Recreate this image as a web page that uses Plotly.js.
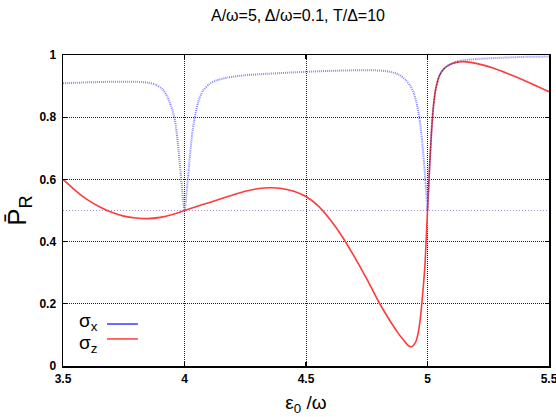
<!DOCTYPE html>
<html>
<head>
<meta charset="utf-8">
<script src="https://cdn.plot.ly/plotly-3.0.1.min.js"></script>
<style>html,body{margin:0;padding:0;background:#fff;}#chart{width:556px;height:417px;}</style>
</head>
<body>
<div id="chart"></div>
<script>
// sigma_x curve (blue dotted)
var sigmaXx = [3.5, 3.6, 3.7, 3.8, 3.85, 3.88, 3.91, 3.93, 3.945, 3.958, 3.968, 3.976, 3.984, 3.991, 3.996, 4.0,
  4.004, 4.009, 4.016, 4.024, 4.032, 4.042, 4.055, 4.075, 4.1, 4.13, 4.18, 4.25, 4.35, 4.5, 4.65, 4.78, 4.84, 4.88,
  4.91, 4.93, 4.945, 4.958, 4.968, 4.977, 4.985, 4.992, 4.997, 5.0,
  5.005, 5.01, 5.017, 5.025, 5.035, 5.05, 5.07, 5.1, 5.13, 5.2, 5.3, 5.4, 5.5];
var sigmaXy = [0.909, 0.912, 0.914, 0.914, 0.911, 0.905, 0.89, 0.865, 0.835, 0.80, 0.75, 0.69, 0.62, 0.56, 0.52, 0.50,
  0.52, 0.56, 0.62, 0.69, 0.75, 0.80, 0.845, 0.885, 0.905, 0.918, 0.928, 0.935, 0.94, 0.946, 0.950, 0.951, 0.947, 0.938,
  0.92, 0.90, 0.875, 0.835, 0.79, 0.73, 0.66, 0.59, 0.53, 0.50,
  0.58, 0.66, 0.76, 0.84, 0.895, 0.935, 0.958, 0.973, 0.981, 0.987, 0.991, 0.994, 0.995];
// sigma_z curve (red solid)
var sigmaZx = [3.5, 3.55, 3.6, 3.65, 3.7, 3.75, 3.8, 3.85, 3.9, 3.95, 4.0, 4.05, 4.1, 4.15, 4.2, 4.25, 4.3, 4.35, 4.4,
  4.45, 4.5, 4.55, 4.6, 4.65, 4.7, 4.75, 4.8, 4.85, 4.88, 4.9, 4.92, 4.935, 4.95, 4.96, 4.97, 4.98, 4.99, 5.0,
  5.005, 5.01, 5.017, 5.025, 5.035, 5.05, 5.07, 5.1, 5.13, 5.16, 5.2, 5.27, 5.34, 5.41, 5.5];
var sigmaZy = [0.60, 0.565, 0.535, 0.512, 0.494, 0.482, 0.476, 0.474, 0.478, 0.487, 0.500, 0.513, 0.525, 0.538, 0.55,
  0.562, 0.57, 0.573, 0.571, 0.562, 0.545, 0.515, 0.47, 0.415, 0.35, 0.28, 0.205, 0.14, 0.105, 0.085, 0.066, 0.062,
  0.075, 0.10, 0.15, 0.23, 0.33, 0.50,
  0.58, 0.66, 0.76, 0.84, 0.895, 0.935, 0.958, 0.972, 0.978, 0.978, 0.973, 0.958, 0.937, 0.914, 0.882];
// overlapping segment (dark dotted)
var overlapX = [5.0, 5.005, 5.01, 5.017, 5.025, 5.035, 5.05, 5.07, 5.1, 5.13];
var overlapY = [0.50, 0.58, 0.66, 0.76, 0.84, 0.895, 0.935, 0.958, 0.972, 0.978];
// reference level
var refX = [3.5, 5.5];
var refY = [0.5, 0.5];
// ticks
var xTickVals = [3.5, 4, 4.5, 5, 5.5];
var xTickText = ['3.5', '4', '4.5', '5', '5.5'];
var yTickVals = [0, 0.2, 0.4, 0.6, 0.8, 1];
var yTickText = ['0', '0.2', '0.4', '0.6', '0.8', '1'];
var legendNames = ['σ<sub>x</sub>', 'σ<sub>z</sub>'];

var font = 'Liberation Sans, Arial, Helvetica, sans-serif';

var traces = [
  {x: refX, y: refY, mode: 'lines', line: {color: 'rgba(150,110,210,0.8)', width: 1, dash: '1px,2px'}, hoverinfo: 'skip', showlegend: false},
  {x: sigmaZx, y: sigmaZy, mode: 'lines', line: {color: '#ff3b3b', width: 1.6, shape: 'spline', smoothing: 0.6}, showlegend: false},
  {x: sigmaXx, y: sigmaXy, mode: 'lines', line: {color: 'rgba(105,105,255,0.8)', width: 2, dash: '1px,1px', shape: 'spline', smoothing: 0.6}, showlegend: false},
  {x: overlapX, y: overlapY, mode: 'lines', line: {color: 'rgba(40,20,40,0.8)', width: 1, dash: '1px,2px', shape: 'spline', smoothing: 0.6}, showlegend: false}
];

var axisCommon = {
  showline: true, linecolor: '#000', linewidth: 1.5, mirror: 'allticks',
  ticks: 'inside', ticklen: 4, tickcolor: '#000', tickwidth: 1.2,
  showgrid: true, gridcolor: 'rgba(0,0,0,0.85)', gridwidth: 1, griddash: '1px,1px',
  zeroline: false, ticklabeloverflow: 'allow',
  tickfont: {family: font, size: 12, color: '#000', weight: 'bold'}
};

var layout = {
  width: 556, height: 417,
  margin: {l: 63, r: 7, t: 55, b: 51},
  paper_bgcolor: '#fff', plot_bgcolor: '#fff',
  showlegend: false,
  title: {text: 'A/ω=5, Δ/ω=0.1, T/Δ=10', font: {family: font, size: 16, color: '#000'}, x: 0.536, xanchor: 'center', y: 0.963, yanchor: 'middle'},
  xaxis: Object.assign({}, axisCommon, {
    range: [3.5, 5.5], tickmode: 'array', tickvals: xTickVals, ticktext: xTickText, ticklabelstandoff: 1,
    title: {text: 'ε<sub>0</sub> /ω', font: {family: font, size: 19, color: '#000'}, standoff: 11}
  }),
  yaxis: Object.assign({}, axisCommon, {
    range: [0, 1], tickmode: 'array', tickvals: yTickVals, ticktext: yTickText, ticklabelstandoff: 3,
    title: {text: 'P̄<sub>R</sub>', font: {family: font, size: 26, color: '#000'}, standoff: 5}
  }),
  annotations: [
    {xref: 'paper', yref: 'paper', x: 0.029, y: 0.14, xanchor: 'left', yanchor: 'middle', text: legendNames[0], showarrow: false, font: {family: font, size: 19, color: '#000'}},
    {xref: 'paper', yref: 'paper', x: 0.029, y: 0.072, xanchor: 'left', yanchor: 'middle', text: legendNames[1], showarrow: false, font: {family: font, size: 19, color: '#000'}}
  ],
  shapes: [
    {type: 'line', xref: 'paper', yref: 'paper', x0: 0.0905, x1: 0.154, y0: 0.135, y1: 0.135, line: {color: '#3a3aff', width: 1.5}},
    {type: 'line', xref: 'paper', yref: 'paper', x0: 0.0905, x1: 0.154, y0: 0.087, y1: 0.087, line: {color: '#ff3b3b', width: 1.5}}
  ]
};

Plotly.newPlot('chart', traces, layout, {displayModeBar: false, staticPlot: true});
</script>
</body>
</html>
